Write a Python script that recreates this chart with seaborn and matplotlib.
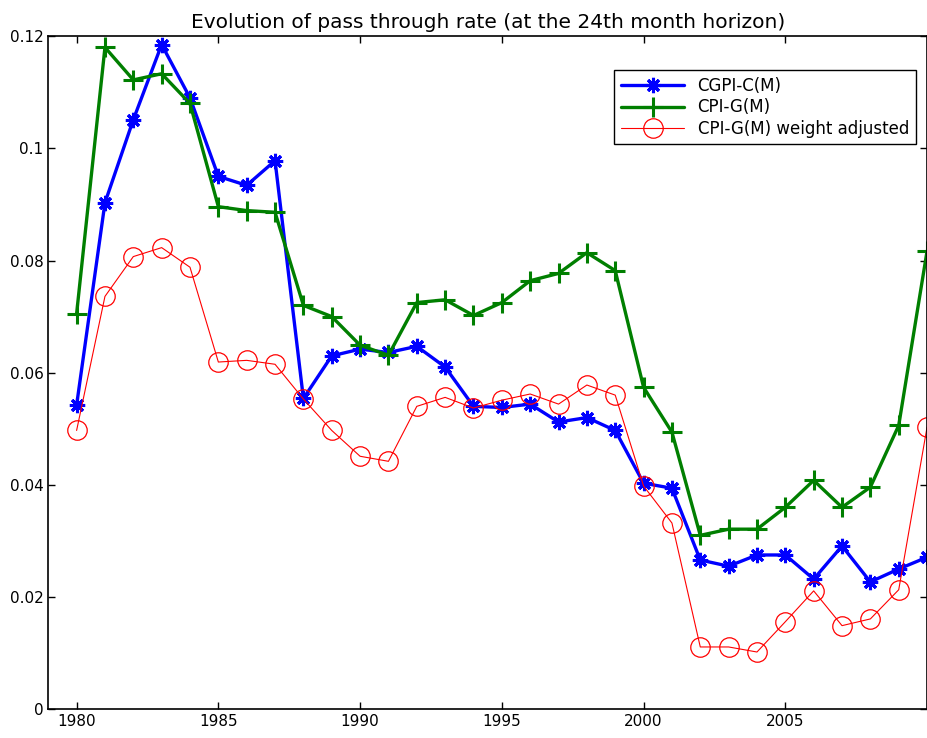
import matplotlib
matplotlib.use("Agg")
import matplotlib.pyplot as plt
import seaborn as sns
import numpy as np
import pandas as pd

years = list(range(1980, 2011))

cgpi_c = [0.0542, 0.0903, 0.1051, 0.1185, 0.1090, 0.0950, 0.0934, 0.0978,
          0.0554, 0.0630, 0.0642, 0.0636, 0.0647, 0.0610, 0.0540, 0.0538,
          0.0544, 0.0512, 0.0520, 0.0497, 0.0403, 0.0394, 0.0266, 0.0255,
          0.0275, 0.0275, 0.0232, 0.0291, 0.0227, 0.0250, 0.0271]

cpi_g = [0.0705, 0.1180, 0.1122, 0.1133, 0.1080, 0.0896, 0.0889, 0.0886,
         0.0720, 0.0700, 0.0649, 0.0631, 0.0725, 0.0730, 0.0702, 0.0725,
         0.0764, 0.0777, 0.0814, 0.0782, 0.0574, 0.0494, 0.0310, 0.0321,
         0.0321, 0.0360, 0.0408, 0.0360, 0.0396, 0.0506, 0.0817]

cpi_g_adj = [0.0497, 0.0736, 0.0807, 0.0823, 0.0788, 0.0619, 0.0622, 0.0615,
             0.0553, 0.0497, 0.0451, 0.0442, 0.0540, 0.0556, 0.0537, 0.0551,
             0.0562, 0.0544, 0.0578, 0.0560, 0.0398, 0.0332, 0.0111, 0.0111,
             0.0102, 0.0156, 0.0211, 0.0149, 0.0161, 0.0213, 0.0503]

series_names = ["CGPI-C(M)", "CPI-G(M)", "CPI-G(M) weight adjusted"]
x_ticks = [1980, 1985, 1990, 1995, 2000, 2005]
y_ticks = [0, 0.02, 0.04, 0.06, 0.08, 0.1, 0.12]
y_tick_labels = ["0", "0.02", "0.04", "0.06", "0.08", "0.1", "0.12"]

sns.set_style("ticks")
plt.rcParams["font.family"] = ["DejaVu Sans"]
plt.rcParams["text.color"] = "black"

fig = plt.figure(figsize=(9.28, 7.38), dpi=100)
ax = fig.add_axes([0.052, 0.039, 0.947, 0.912])

# asterisk line (MATLAB '*')
sns.lineplot(x=years, y=cgpi_c, ax=ax, color="#0000ff", linewidth=2.4,
             marker=(8, 2, 0), markersize=11, markeredgewidth=2.2,
             markeredgecolor="#0000ff", label=series_names[0])
sns.lineplot(x=years, y=cpi_g, ax=ax, color="#007f00", linewidth=2.4,
             marker="+", markersize=15, markeredgewidth=2.2,
             markeredgecolor="#007f00", label=series_names[1])
sns.lineplot(x=years, y=cpi_g_adj, ax=ax, color="#ff0000", linewidth=0.8,
             marker="o", markersize=14, markerfacecolor="none",
             markeredgewidth=0.9, markeredgecolor="#ff0000",
             label=series_names[2])

ax.set_xlim(1979, 2010)
ax.set_ylim(0, 0.12)
ax.set_xticks(x_ticks)
ax.set_yticks(y_ticks)
ax.set_yticklabels(y_tick_labels)
ax.tick_params(direction="in", top=True, right=True, labelsize=11,
               length=5, width=1, colors="black")
for s in ax.spines.values():
    s.set_color("black")
    s.set_linewidth(1.2)

ax.set_title("Evolution of pass through rate (at the 24th month horizon)",
             fontsize=14.5, pad=6, color="black")

leg = ax.legend(loc="upper right", bbox_to_anchor=(0.987, 0.949),
                borderaxespad=0, fontsize=12, handlelength=3.8,
                fancybox=False, framealpha=1, borderpad=0.4,
                labelspacing=0.2)
leg.get_frame().set_edgecolor("black")
leg.get_frame().set_linewidth(1.0)
for t in leg.get_texts():
    t.set_color("black")

plt.savefig("out.png", dpi=100)
